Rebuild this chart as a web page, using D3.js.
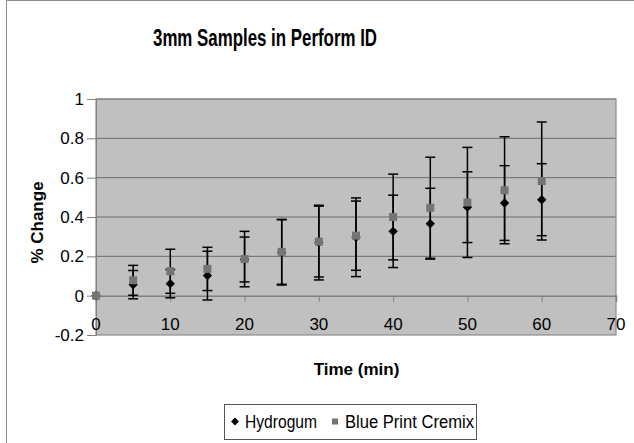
<!DOCTYPE html>
<html>
<head>
<meta charset="utf-8">
<script src="https://cdn.jsdelivr.net/npm/d3@7"></script>
<style>
body { margin: 0; background: #fff; }
text { font-family: "Liberation Sans", Arial, sans-serif; }
</style>
</head>
<body>
<script>
// data
var time = [0, 5, 10, 15, 20, 25, 30, 35, 40, 45, 50, 55, 60]
var hydrogum = [0, 0.056, 0.061, 0.102, 0.184, 0.22, 0.27, 0.297, 0.327, 0.366, 0.45, 0.471, 0.488]
var hydrogum_err = [0, 0.072, 0.072, 0.124, 0.114, 0.166, 0.19, 0.2, 0.184, 0.18, 0.18, 0.19, 0.183]
var blueprint = [0, 0.078, 0.124, 0.136, 0.186, 0.223, 0.275, 0.305, 0.40, 0.447, 0.474, 0.536, 0.583]
var blueprint_err = [0, 0.076, 0.112, 0.11, 0.141, 0.165, 0.18, 0.176, 0.218, 0.257, 0.28, 0.272, 0.3]
var x_ticks = [0, 10, 20, 30, 40, 50, 60, 70]
var y_ticks = [-0.2, 0, 0.2, 0.4, 0.6, 0.8, 1]
var series_names = ['Hydrogum', 'Blue Print Cremix']

var chart_width = 634, chart_height = 443
// plot area box (window.top is taken, so prefixed names)
var plot_left = 96, plot_right = 616, plot_top = 99, plot_bottom = 335

function plot_it() {
	var svg = d3.select('body').append('svg').attr('width', chart_width).attr('height', chart_height)

	// chart area border (runs off the right / bottom of the picture)
	svg.append('rect').attr('x', 6.5).attr('y', 0.5).attr('width', 700).attr('height', 500)
		.attr('fill', '#fff').attr('stroke', '#8c8c8c')

	var xScale = d3.scaleLinear().domain([0, 70]).range([plot_left, plot_right])
	var yScale = d3.scaleLinear().domain([-0.2, 1]).range([plot_bottom, plot_top])

	// plot area
	svg.append('rect').attr('x', plot_left).attr('y', plot_top)
		.attr('width', plot_right - plot_left).attr('height', plot_bottom - plot_top)
		.attr('fill', '#c0c0c0')

	// gridlines
	svg.append('g').selectAll('line').data(y_ticks.filter(d => d > 0)).enter().append('line')
		.attr('x1', plot_left).attr('x2', plot_right)
		.attr('y1', d => yScale(d)).attr('y2', d => yScale(d))
		.attr('stroke', '#6b6b6b').attr('stroke-width', 1)

	svg.append('rect').attr('x', plot_left).attr('y', plot_top)
		.attr('width', plot_right - plot_left).attr('height', plot_bottom - plot_top)
		.attr('fill', 'none').attr('stroke', '#8c8c8c').attr('stroke-width', 1.2)

	// y axis
	var yAxis = d3.axisLeft(yScale).tickValues(y_ticks).tickSize(9).tickPadding(3)
		.tickFormat(d => String(+d.toFixed(1)))
	var yg = svg.append('g').attr('transform', 'translate(' + plot_left + ',0)').call(yAxis)
	yg.select('.domain').attr('stroke', '#808080')
	yg.selectAll('.tick line').attr('stroke', '#808080')
	yg.selectAll('text').attr('font-size', '17px').attr('fill', '#000')
		.attr('font-family', '"Liberation Sans", Arial, sans-serif')

	// x axis sits on y = 0, labels down at the bottom of the plot
	var xAxis = d3.axisBottom(xScale).tickValues(x_ticks).tickSize(6).tickFormat('')
	var xg = svg.append('g').attr('transform', 'translate(0,' + yScale(0) + ')').call(xAxis)
	xg.select('.domain').attr('stroke', '#808080').attr('stroke-width', 1.5)
	xg.selectAll('.tick line').attr('stroke', '#808080')

	svg.append('g').selectAll('text').data(x_ticks).enter().append('text')
		.attr('x', d => xScale(d)).attr('y', 330)
		.attr('text-anchor', 'middle').attr('font-size', '17px').attr('fill', '#000')
		.text(d => d)

	// error bars, then markers
	var cap = 5
	function draw_err(vals, errs) {
		var g = svg.append('g').attr('stroke', '#000').attr('stroke-width', 1.5)
		time.forEach(function(t, i) {
			if (errs[i] == 0) return
			var x = xScale(t), y1 = yScale(vals[i] + errs[i]), y2 = yScale(vals[i] - errs[i])
			g.append('line').attr('x1', x).attr('x2', x).attr('y1', y1).attr('y2', y2)
			g.append('line').attr('x1', x - cap).attr('x2', x + cap).attr('y1', y1).attr('y2', y1)
			g.append('line').attr('x1', x - cap).attr('x2', x + cap).attr('y1', y2).attr('y2', y2)
		})
	}
	draw_err(hydrogum, hydrogum_err)
	draw_err(blueprint, blueprint_err)

	var diamond = d3.symbol().type(d3.symbolDiamond2).size(56)
	svg.append('g').selectAll('path').data(hydrogum).enter().append('path')
		.attr('d', diamond)
		.attr('transform', (d, i) => 'translate(' + xScale(time[i]) + ',' + yScale(d) + ')')
		.attr('fill', '#000')

	svg.append('g').selectAll('rect').data(blueprint).enter().append('rect')
		.attr('x', (d, i) => xScale(time[i]) - 4).attr('y', d => yScale(d) - 4)
		.attr('width', 8).attr('height', 8)
		.attr('fill', '#747474')

	// titles
	svg.append('text').text('3mm Samples in Perform ID')
		.attr('x', 153).attr('y', 46).attr('font-size', '23px').attr('font-weight', 'bold')
		.attr('textLength', 224).attr('lengthAdjust', 'spacingAndGlyphs')

	svg.append('text').text('Time (min)')
		.attr('x', 356.5).attr('y', 375).attr('text-anchor', 'middle')
		.attr('font-size', '17px').attr('font-weight', 'bold')

	svg.append('text').text('% Change')
		.attr('transform', 'translate(43,222.5) rotate(-90)').attr('text-anchor', 'middle')
		.attr('font-size', '17px').attr('font-weight', 'bold')

	// legend
	var lg = svg.append('g')
	lg.append('rect').attr('x', 224.5).attr('y', 404.5).attr('width', 252).attr('height', 35)
		.attr('fill', '#fff').attr('stroke', '#555')
	lg.append('path').attr('d', d3.symbol().type(d3.symbolDiamond2).size(40))
		.attr('transform', 'translate(235,421.5)').attr('fill', '#000')
	lg.append('rect').attr('x', 332).attr('y', 418.5).attr('width', 6).attr('height', 6).attr('fill', '#747474')
	lg.append('text').text(series_names[0]).attr('x', 245).attr('y', 428).attr('font-size', '18px')
		.attr('textLength', 72).attr('lengthAdjust', 'spacingAndGlyphs')
	lg.append('text').text(series_names[1]).attr('x', 345).attr('y', 428).attr('font-size', '18px')
		.attr('textLength', 129).attr('lengthAdjust', 'spacingAndGlyphs')
}

plot_it()
</script>
</body>
</html>
